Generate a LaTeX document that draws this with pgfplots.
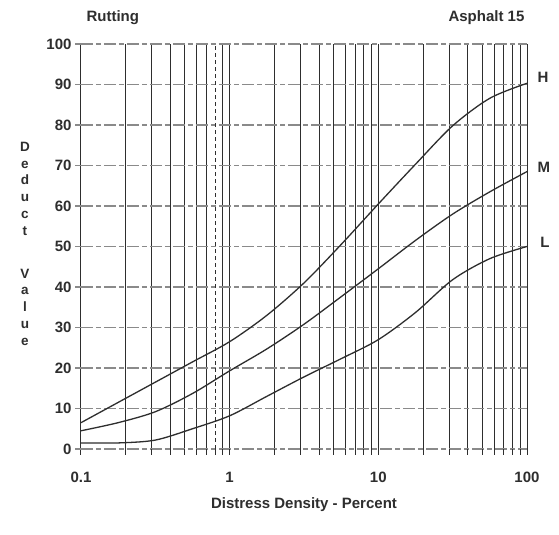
\documentclass[border=0pt]{standalone}
\usepackage{fontspec}
\setmainfont{Liberation Sans}
\usepackage{pgfplots}
\pgfplotsset{compat=1.18}
\definecolor{ink}{HTML}{2E2E2E}
\definecolor{hgrid}{HTML}{8A8A8A}
\newcommand\tf{\fontsize{15bp}{18bp}\selectfont\bfseries}
\begin{document}
\begin{tikzpicture}
\useasboundingbox (0,0) rectangle (559bp,535bp);
\fill[white] (0,0) rectangle (559bp,535bp);
\begin{axis}[
  at={(81bp,86bp)}, anchor=south west,
  scale only axis, width=446bp, height=405bp,
  xmode=log, xmin=0.1, xmax=100, ymin=0, ymax=100,
  clip=false,
  xtick={0.1,1,10,100}, xticklabels={0.1,1,10,100},
  minor xtick={0.2,0.3,0.4,0.5,0.6,0.7,0.9,2,3,4,5,6,7,8,9,20,30,40,50,60,70,80,90},
  extra x ticks={0.8}, extra x tick labels={},
  extra x tick style={grid=major, major x grid style={ink, line width=1bp, dash pattern=on 4bp off 3bp}},
  ytick={0,10,...,100},
  /pgf/number format/assume math mode=true,
  axis line style={draw=none},
  tick align=outside, tick pos=left,
  major tick length=6bp, minor tick length=6bp,
  xtick style={ink, line width=1bp},
  minor x tick style={ink, line width=1bp},
  ytick style={hgrid, line width=1.1bp},
  xmajorgrids, xminorgrids, ymajorgrids,
  x grid style={ink, line width=1bp},
  y grid style={hgrid, line width=1.2bp, dash pattern=on 12bp off 3bp on 5bp off 3bp},
  tick label style={font=\tf, text=ink},
  xticklabel style={yshift=-14bp},
  xlabel={Distress Density - Percent},
  x label style={at={(axis description cs:0.5,-0.138)}, anchor=center, font=\tf, text=ink},
]
% H
\addplot[smooth, ink, line width=1.3bp] coordinates {
 (0.1,6.5) (0.1778,11.5) (0.3162,16.5) (0.5623,21.5) (1,26.5) (1.778,33)
 (3.162,41) (5.623,50.5) (10,60.5) (17.78,70.3) (31.62,79.8) (56.23,86.6) (100,90.3)};
% M
\addplot[smooth, ink, line width=1.3bp] coordinates {
 (0.1,4.5) (0.1778,6.5) (0.3162,9.2) (0.5623,13.7) (1,19.3) (1.778,24.7)
 (3.162,30.8) (5.623,37.6) (10,44.5) (17.78,51.5) (31.62,58) (56.23,63.5) (100,68.5)};
% L
\addplot[smooth, ink, line width=1.3bp] coordinates {
 (0.1,1.5) (0.1778,1.5) (0.3162,2.2) (0.5623,5.0) (1,8.2) (1.778,13)
 (3.162,17.8) (5.623,22.3) (10,27) (17.78,33.7) (31.62,41.8) (56.23,47) (100,50)};
\node[font=\tf, text=ink, anchor=west] at (axis description cs:0.0045,1.064) {Rutting};
\node[font=\tf, text=ink, anchor=east] at (axis description cs:1.002,1.064) {Asphalt 15};
\node[font=\tf, text=ink] at (axis description cs:1.036,0.9185) {H};
\node[font=\tf, text=ink] at (axis description cs:1.038,0.696) {M};
\node[font=\tf, text=ink] at (axis description cs:1.04,0.511) {L};
\node[font=\fontsize{13.5bp}{16.8bp}\selectfont\bfseries, text=ink, align=center, inner sep=0pt] at (axis description cs:-0.1256,0.507)
  {D\\e\\d\\u\\c\\t\\[26bp]V\\a\\l\\u\\e};
\end{axis}
\end{tikzpicture}
\end{document}
